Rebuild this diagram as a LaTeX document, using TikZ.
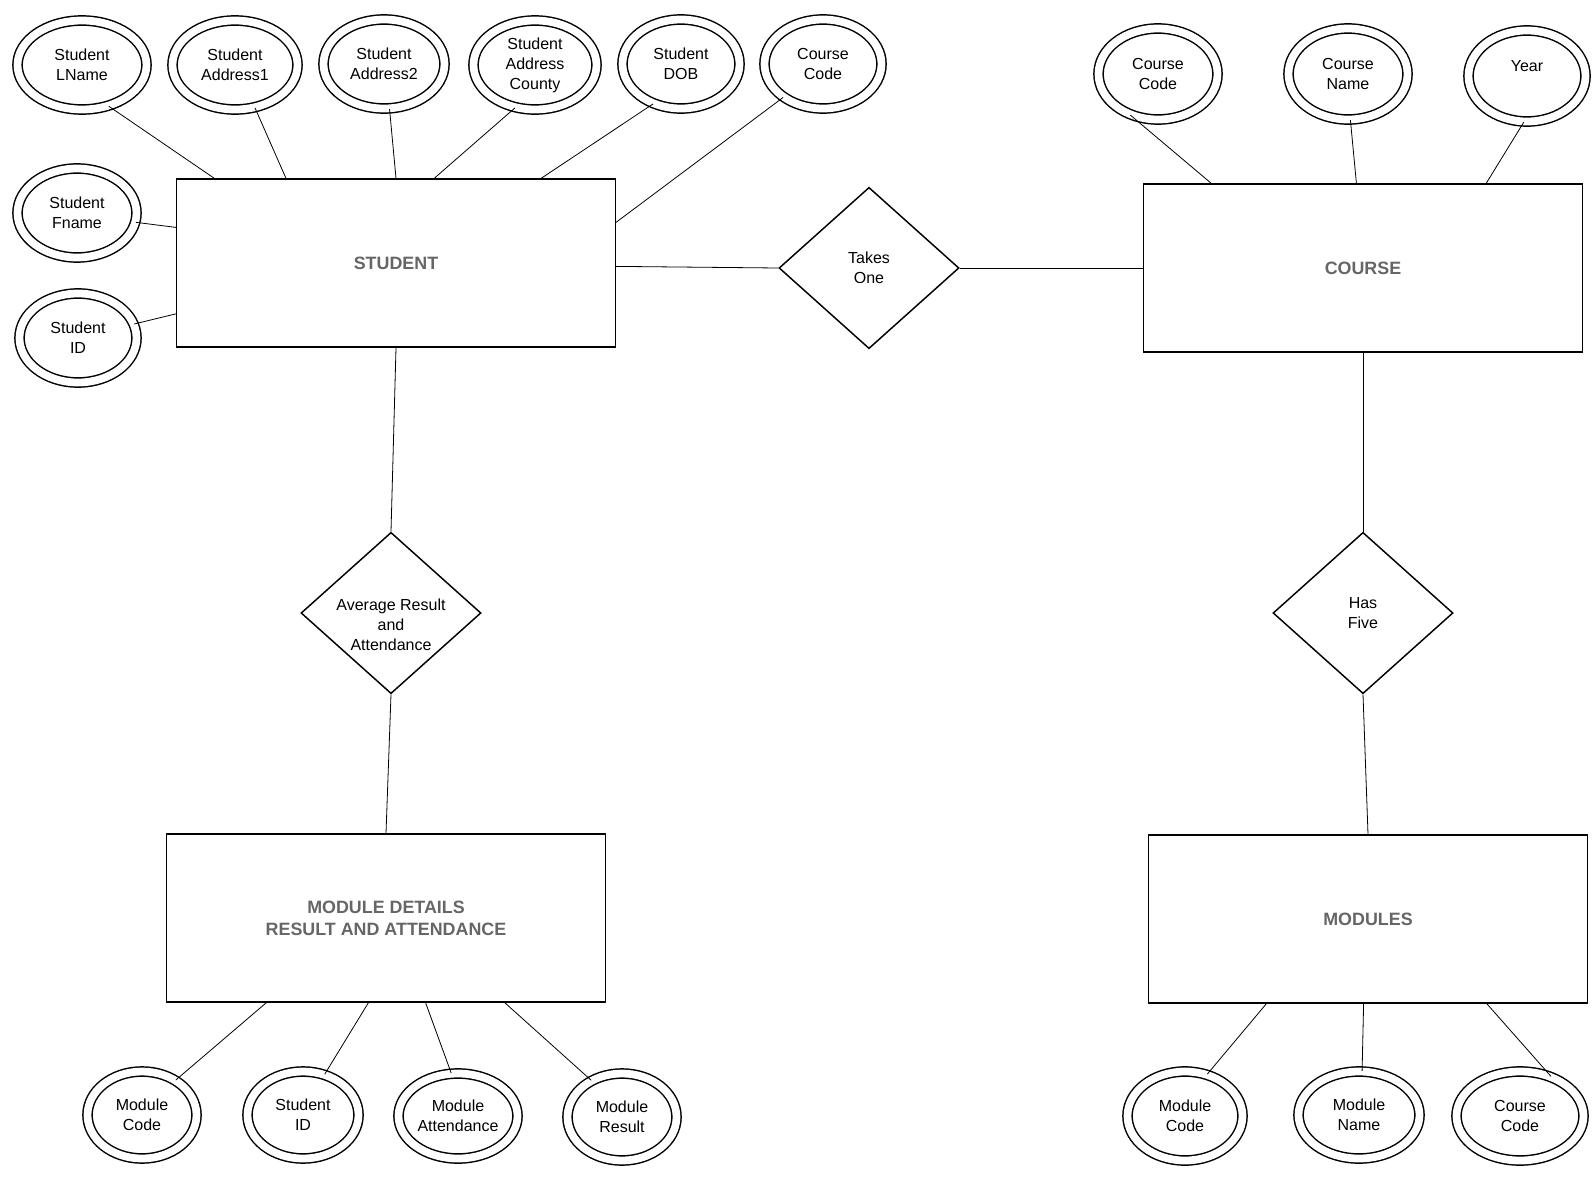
\documentclass[tikz,border=0pt]{standalone}
\usepackage{fontspec}
\setmainfont{Liberation Sans}
\usetikzlibrary{calc,shapes.geometric}
\definecolor{titlegray}{HTML}{666666}
\begin{document}
\begin{tikzpicture}[x=0.75pt,y=-0.75pt,
  attr/.style={ellipse, draw, line width=1.1pt, double, double distance=5.8pt,
    inner sep=0pt, align=center, minimum width=#1, minimum height=66.75pt,
    font=\fontsize{12}{15}\selectfont},
  attr/.default=90.75pt,
  entity/.style={draw, line width=1.1pt, minimum width=329pt, minimum height=126pt,
    inner sep=0pt, align=center, text=titlegray,
    font=\bfseries\fontsize{13.4}{16.5}\selectfont},
  rel/.style={diamond, draw, line width=1.1pt, aspect=1.12, minimum width=135pt,
    minimum height=121pt, inner sep=0pt, align=center,
    font=\fontsize{12}{15}\selectfont},
  link/.style={line width=0.6pt}]
\useasboundingbox (0,0) rectangle (1595,1178);

% entities
\node[entity] (student) at (396,263) {STUDENT};
\node[entity] (course)  at (1363,268) {COURSE};
\node[entity] (details) at (386,918) {MODULE DETAILS\\RESULT AND ATTENDANCE};
\node[entity] (modules) at (1368,919) {MODULES};

% relationships
\node[rel] (takes) at (869,268) {Takes\\One};
\node[rel] (avg)   at (391,613)
  {\raisebox{-12.9pt}[0pt][0pt]{\begin{tabular}{@{}c@{}}Average Result\\and\\Attendance\end{tabular}}};
\node[rel] (has)   at (1363,613) {Has\\Five};

% student attributes
\node[attr=96.75pt] (lname)  at (82,65)  {Student\\LName};
\node[attr=93.75pt] (addr1)  at (235,65) {Student\\Address1};
\node[attr=90.75pt] (addr2)  at (384,64) {Student\\Address2};
\node[attr=92.25pt] (county) at (535,65) {Student\\Address\\County};
\node[attr=87.75pt] (dob)    at (681,64) {Student\\DOB};
\node[attr=87.75pt] (scode)  at (823,64) {Course\\Code};
\node[attr=89.25pt] (fname)  at (77,213) {Student\\Fname};
\node[attr=87.75pt] (sid)    at (78,338) {Student\\ID};

% course attributes
\node[attr=89.25pt, minimum height=68.25pt] (ccode) at (1158,74) {Course\\Code};
\node[attr=89.25pt, minimum height=68.25pt] (cname) at (1348,74) {Course\\Name};
\node[attr=87.75pt, minimum height=68.25pt] (year)  at (1527,76) {Year\\\phantom{Y}};

% module detail attributes
\node[attr=81.75pt, minimum height=65.25pt] (mdcode) at (142,1115) {Module\\Code};
\node[attr=83.25pt, minimum height=65.25pt] (mdsid)  at (303,1115) {Student\\ID};
\node[attr=89.25pt, minimum height=63.75pt] (mdatt)  at (458,1116) {Module\\Attendance};
\node[attr=81.75pt, minimum height=65.25pt] (mdres)  at (622,1117) {Module\\Result};

% module attributes
\node[attr=86.25pt] (mcode)  at (1185,1116) {Module\\Code};
\node[attr=90.75pt, minimum height=65.25pt] (mname)  at (1359,1115) {Module\\Name};
\node[attr=95.25pt] (mccode) at (1520,1116) {Course\\Code};

% relationship links
\draw[link] ($(student.north east)!0.52!(student.south east)$) -- (takes.west);
\draw[link] (takes.east) -- (course.west);
\draw[link] (student.south) -- (avg.north);
\draw[link] (avg.south) -- (details.north);
\draw[link] (course.south) -- (has.north);
\draw[link] (has.south) -- (modules.north);

% attribute links
\draw[link] (lname.-57)  -- ($(student.north west)!0.087!(student.north east)$);
\draw[link] (addr1.-65)  -- ($(student.north west)!0.25!(student.north east)$);
\draw[link] (addr2.-83)  -- ($(student.north west)!0.5!(student.north east)$);
\draw[link] (county.-115) -- ($(student.north west)!0.587!(student.north east)$);
\draw[link] (dob.-125)   -- ($(student.north west)!0.83!(student.north east)$);
\draw[link] (scode.-140) -- ($(student.north east)!0.26!(student.south east)$);
\draw[link] (fname.-9)   -- ($(student.north west)!0.29!(student.south west)$);
\draw[link] (sid.14)     -- ($(student.north west)!0.80!(student.south west)$);

\draw[link] (ccode.-124) -- ($(course.north west)!0.155!(course.north east)$);
\draw[link] (cname.-87)  -- ($(course.north west)!0.485!(course.north east)$);
\draw[link] (year.-94)   -- ($(course.north west)!0.78!(course.north east)$);

\draw[link] (mdcode.46)  -- ($(details.south west)!0.228!(details.south east)$);
\draw[link] (mdsid.62)   -- ($(details.south west)!0.46!(details.south east)$);
\draw[link] (mdatt.99)   -- ($(details.south west)!0.59!(details.south east)$);
\draw[link] (mdres.130)  -- ($(details.south west)!0.77!(details.south east)$);

\draw[link] (mcode.62)   -- ($(modules.south west)!0.269!(modules.south east)$);
\draw[link] (mname.86)   -- ($(modules.south west)!0.49!(modules.south east)$);
\draw[link] (mccode.52)  -- ($(modules.south west)!0.77!(modules.south east)$);
\end{tikzpicture}
\end{document}
